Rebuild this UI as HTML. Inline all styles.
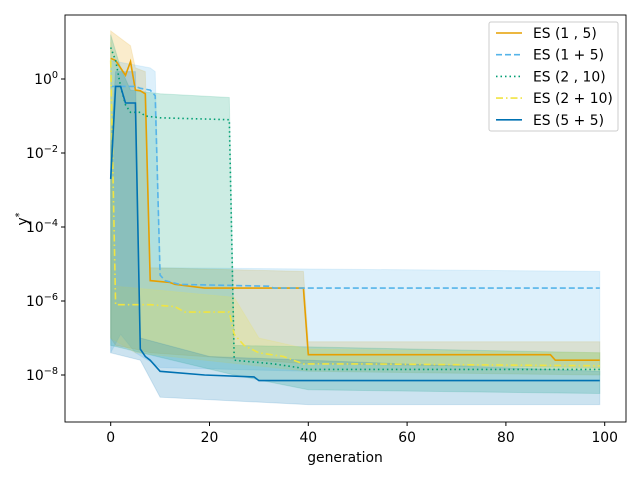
<!DOCTYPE html>
<html><head><meta charset="utf-8"><style>
body{margin:0;background:#fff}
svg text{font-family:"DejaVu Sans","Liberation Sans",sans-serif;fill:#000}
</style></head><body>
<svg id="c" width="640" height="480" xmlns="http://www.w3.org/2000/svg"></svg>
<script>
// data: [generation, log10(y*)] breakpoints
const xTicks=[0,20,40,60,80,100];
const yTicks=[0,-2,-4,-6,-8];
const seriesNames=["ES (1 , 5)","ES (1 + 5)","ES (2 , 10)","ES (2 + 10)","ES (5 + 5)"];
const es15=[[0,0.56],[1,0.5],[2,0.3],[3,0.1],[4,0.47],[5,-0.3],[6,-0.32],[7,-0.4],[8,-5.45],[12,-5.5],[13,-5.55],[19,-5.65],[39,-5.65],[40,-7.45],[89,-7.45],[90,-7.6],[99,-7.6]];
const es1p5=[[0,-0.2],[5,-0.2],[6,-0.25],[8,-0.3],[9,-0.45],[10,-5.3],[11,-5.45],[14,-5.55],[32,-5.6],[33,-5.65],[99,-5.65]];
const es210=[[0,0.85],[1,0.5],[2,-0.2],[3,-0.7],[4,-0.9],[6,-0.9],[7,-1.0],[10,-1.05],[19,-1.08],[24,-1.1],[25,-7.6],[33,-7.7],[38,-7.8],[39,-7.85],[99,-7.85]];
const es2p10=[[0,0.5],[1,-6.1],[8,-6.1],[13,-6.15],[15,-6.3],[24,-6.3],[25,-6.9],[27,-7.2],[30,-7.4],[35,-7.5],[39,-7.7],[50,-7.7],[99,-7.75]];
const es5p5=[[0,-2.7],[1,-0.2],[2,-0.2],[3,-0.65],[5,-0.65],[6,-7.3],[7,-7.5],[8,-7.6],[10,-7.9],[19,-8.0],[29,-8.05],[30,-8.15],[99,-8.15]];
const es15Up=[[0,1.3],[4,0.9],[5,0.3],[7,0.2],[8,-5.1],[39,-5.2],[40,-7.1],[99,-7.1]];
const es15Lo=[[0,-7.0],[1,-7.2],[5,-7.3],[8,-7.4],[40,-7.7],[99,-7.8]];
const es1p5Up=[[0,0.5],[8,0.3],[9,0.2],[10,-5.1],[99,-5.2]];
const es1p5Lo=[[0,-7.4],[2,-6.9],[5,-7.4],[10,-7.8],[40,-7.9],[99,-8.0]];
const es210Up=[[0,1.2],[2,0.3],[4,-0.3],[10,-0.4],[24,-0.5],[25,-7.2],[99,-7.4]];
const es210Lo=[[0,-7.2],[25,-8.0],[40,-8.4],[99,-8.5]];
const es2p10Up=[[0,1.0],[1,-5.6],[25,-5.9],[30,-7.0],[40,-7.3],[99,-7.4]];
const es2p10Lo=[[0,-7.0],[5,-7.4],[40,-7.9],[99,-8.0]];
const es5p5Up=[[0,-1.8],[1,0.2],[5,0.2],[6,-7.0],[20,-7.5],[99,-7.9]];
const es5p5Lo=[[0,-7.4],[6,-7.6],[10,-8.6],[40,-8.8],[99,-8.8]];

const NS="http://www.w3.org/2000/svg";
const svg=document.getElementById('c');
const L=65,R=626,T=15,B=422;
const xs=v=>110.7+4.94*v;
const ys=v=>79-37*v;
function mk(tag,at,parent){const e=document.createElementNS(NS,tag);for(const k in at)e.setAttribute(k,at[k]);(parent||svg).appendChild(e);return e;}
const cols=["#E69F00","#56B4E9","#009E73","#F0E442","#0072B2"];
const dashes=["","6,3","1.5,3","7,3,1.5,3",""];
const lines=[es15,es1p5,es210,es2p10,es5p5];
const ups=[es15Up,es1p5Up,es210Up,es2p10Up,es5p5Up];
const los=[es15Lo,es1p5Lo,es210Lo,es2p10Lo,es5p5Lo];
const pts=a=>a.map(p=>xs(p[0]).toFixed(1)+","+ys(p[1]).toFixed(1));
for(let i=0;i<5;i++){
  const poly=mk('polygon',{points:pts(ups[i]).concat(pts(los[i].slice().reverse())).join(' '),fill:cols[i],'fill-opacity':0.2,stroke:cols[i],'stroke-opacity':0.15});
  
  
}
for(let i=0;i<5;i++){
  const pl=mk('polyline',{points:pts(lines[i]).join(' '),fill:'none',stroke:cols[i],'stroke-width':1.6,'stroke-dasharray':dashes[i]});
  
  
}
const frame=mk('rect',{x:L,y:T,width:R-L,height:B-T,fill:'none',stroke:'#000','stroke-width':0.9});


xTicks.forEach(v=>{
  mk('line',{x1:xs(v),x2:xs(v),y1:B,y2:B+4,stroke:'#000'});
  const t=mk('text',{x:xs(v),y:B+20,'font-size':13.9,'text-anchor':'middle'});t.textContent=v;
  
  
});
yTicks.forEach(v=>{
  mk('line',{x1:L-4,x2:L,y1:ys(v),y2:ys(v),stroke:'#000'});
  const t=mk('text',{x:L-7,y:ys(v)+5,'font-size':13.9,'text-anchor':'end'});
  t.textContent='10';
  const s=mk('tspan',{dy:-6,'font-size':9.7},t);s.textContent=v===0?'0':'\u2212'+(-v);
  
  
});
const xl=mk('text',{x:345,y:462,'font-size':13.9,'text-anchor':'middle'});xl.textContent='generation';


const yl=mk('text',{x:0,y:0,'font-size':13.9,'text-anchor':'middle',transform:'translate(27,219) rotate(-90)'});
yl.textContent='y';const ys2=mk('tspan',{dy:-5,'font-size':9.7},yl);ys2.textContent='*';


const lg=mk('g',{});


mk('rect',{x:489,y:22,width:129,height:109,rx:2,fill:'#fff','fill-opacity':0.8,stroke:'#ccc'},lg);
seriesNames.forEach((n,i)=>{
  const y=33+21.7*i;
  mk('line',{x1:496,x2:522,y1:y,y2:y,stroke:cols[i],'stroke-width':1.6,'stroke-dasharray':dashes[i]},lg);
  const t=mk('text',{x:533,y:y+5,'font-size':13.9},lg);t.textContent=n;
  
  
});
</script>
</body></html>
